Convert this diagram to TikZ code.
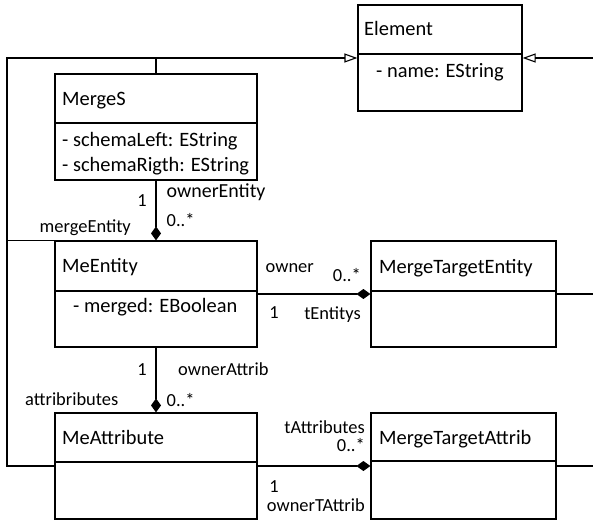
\documentclass[tikz,border=0pt]{standalone}
\usepackage{fontspec}
\setmainfont{Carlito}
\usetikzlibrary{arrows.meta}
\begin{document}
\begin{tikzpicture}[x=1bp,y=-1bp,
  cls/.style={draw, line width=1.2bp, rectangle, inner sep=0pt},
  txt/.style={anchor=base west, inner sep=0pt, font=\fontsize{20.5}{24}\selectfont},
  lbl/.style={inner sep=0pt, font=\fontsize{18.5}{22}\selectfont},
  conn/.style={line width=1.1bp},
  gen/.style={conn, -{Triangle[open, length=13bp, width=9bp, line width=1.1bp]}},
  comp/.style={conn, -{Diamond[length=14bp, width=10bp]}}]
\useasboundingbox (0,0) rectangle (593,520);

% classes
\node[cls, minimum width=164bp, minimum height=106bp] (element) at (440,58) {};
\node[cls, minimum width=202bp, minimum height=106bp] (merges) at (156,127) {};
\node[cls, minimum width=202bp, minimum height=106bp] (meentity) at (156,294) {};
\node[cls, minimum width=202bp, minimum height=106bp] (meattr) at (156,466) {};
\node[cls, minimum width=185bp, minimum height=106bp] (mtentity) at (463.5,294) {};
\node[cls, minimum width=185bp, minimum height=106bp] (mtattrib) at (463.5,466) {};

% compartment dividers
\draw[line width=1.2bp] (element.west |- 0,54) -- (element.east |- 0,54);
\draw[line width=1.2bp] (merges.west |- 0,123) -- (merges.east |- 0,123);
\draw[line width=1.2bp] (meentity.west |- 0,291) -- (meentity.east |- 0,291);
\draw[line width=1.2bp] (meattr.west |- 0,462) -- (meattr.east |- 0,462);
\draw[line width=1.2bp] (mtentity.west |- 0,291) -- (mtentity.east |- 0,291);
\draw[line width=1.2bp] (mtattrib.west |- 0,461) -- (mtattrib.east |- 0,461);

% class names and attributes
\node[txt] (tElement) at (364,36) {Element};
\node[txt] (tName) at (376,78) {- name: EString};
\node[txt] (tMergeS) at (62,106) {MergeS};
\node[txt] (tLeft) at (62,146.5) {- schemaLeft: EString};
\node[txt] (tRight) at (62,171.5) {- schemaRigth: EString};
\node[txt] (tMeEntity) at (62,272.5) {MeEntity};
\node[txt] (tMerged) at (73,312.5) {- merged: EBoolean};
\node[txt] (tMeAttr) at (62,444.5) {MeAttribute};
\node[txt] (tMTEntity) at (379,273.5) {MergeTargetEntity};
\node[txt] (tMTAttrib) at (379,444) {MergeTargetAttrib};

% generalisation to Element
\coordinate (lt) at (7,58);
\coordinate (lb) at (7,466);
\coordinate (rt) at (593,58);
\draw[gen] (meattr.west) -- (lb) -- (lt) -- (element.west);
\draw[conn] (merges.north) -- (merges.north |- lt);
\draw[conn] (meentity.north west) -- (meentity.north west -| lt);
\draw[gen] (rt) -- (element.east);
\draw[conn] (mtentity.east) -- (mtentity.east -| rt);
\draw[conn] (mtattrib.east) -- (mtattrib.east -| rt);

% compositions
\draw[comp] (merges.south) -- (meentity.north);
\draw[comp] (meentity.south) -- (meattr.north);
\draw[comp] (meentity.east) -- (mtentity.west);
\draw[comp] (meattr.east) -- (mtattrib.west);

% association end labels
\node[lbl, anchor=base] (l1) at (142,207) {1};
\node[lbl, anchor=base west, font=\fontsize{20}{24}\selectfont] (l2) at (166.5,197.5) {ownerEntity};
\node[lbl, anchor=base west] (l3) at (166.5,226.5) {0..*};
\node[lbl, anchor=base east] (l4) at (131,233) {mergeEntity};

\node[lbl, anchor=base west] (l5) at (265.5,272) {owner};
\node[lbl, anchor=base east] (l6) at (361,281.5) {0..*};
\node[lbl, anchor=base] (l7) at (274,318) {1};
\node[lbl, anchor=base east] (l8) at (361,319) {tEntitys};

\node[lbl, anchor=base] (l9) at (142,375) {1};
\node[lbl, anchor=base west] (l10) at (178,375) {ownerAttrib};
\node[lbl, anchor=base east] (l11) at (118.5,405) {attribributes};
\node[lbl, anchor=base west] (l12) at (166.5,406) {0..*};

\node[lbl, anchor=base east] (l13) at (365,433) {tAttributes};
\node[lbl, anchor=base east] (l14) at (365,451) {0..*};
\node[lbl, anchor=base] (l15) at (274,492) {1};
\node[lbl, anchor=base east] (l16) at (365,511.5) {ownerTAttrib};
\end{tikzpicture}
\end{document}
